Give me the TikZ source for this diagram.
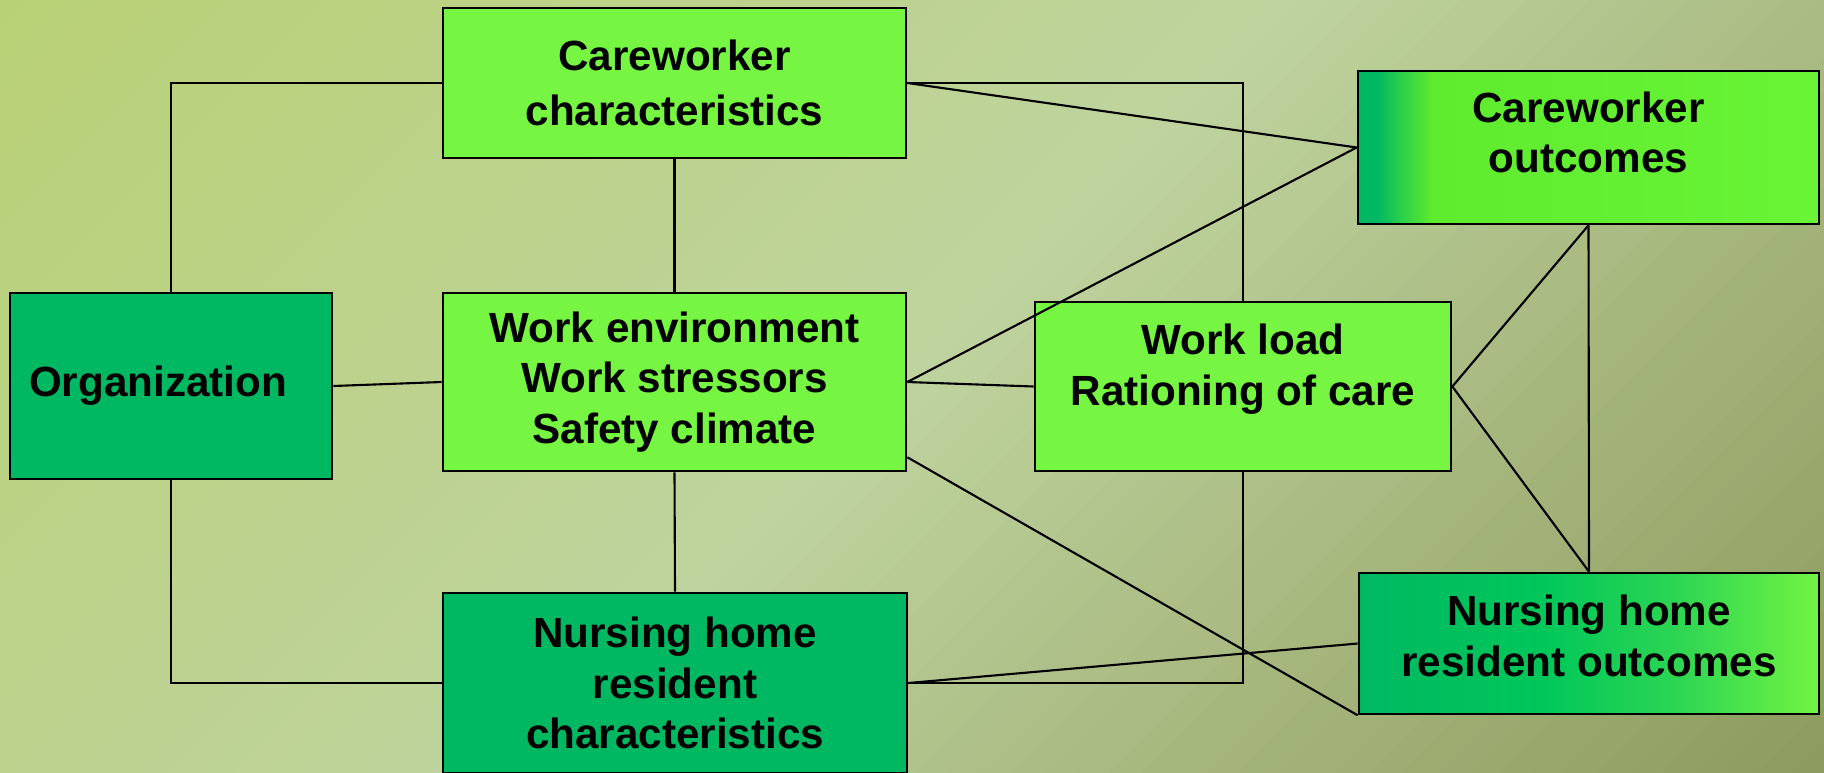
\documentclass[tikz,border=0pt]{standalone}
\usepackage{fontspec}
\setmainfont{Liberation Sans}
\usepackage{xcolor}
\usepackage{tikz}
\usetikzlibrary{calc}
\definecolor{bgleft}{HTML}{B9D175}
\definecolor{bgmid}{HTML}{BFD39E}
\definecolor{bgright}{HTML}{8C9A5D}
\definecolor{darkbox}{HTML}{00B862}
\definecolor{lightbox}{HTML}{76F542}
\definecolor{cogreen}{HTML}{5FEB2E}
\definecolor{colime}{HTML}{69F536}
\definecolor{nhmid}{HTML}{00C75A}
\definecolor{nhlight}{HTML}{2ED652}
\definecolor{nhright}{HTML}{72F443}
\pgfdeclarehorizontalshading{cofade}{100bp}{color(0bp)=(darkbox); color(27bp)=(darkbox); color(33bp)=(cogreen); color(75bp)=(colime); color(100bp)=(colime)}
\pgfdeclarehorizontalshading{nhfade}{100bp}{color(0bp)=(darkbox); color(25bp)=(darkbox); color(45bp)=(nhmid); color(60bp)=(nhlight); color(75bp)=(nhright); color(100bp)=(nhright)}

\begin{document}
\begin{tikzpicture}[x=0.01cm,y=-0.01cm,
  box/.style={draw=black,line width=0.7pt,align=center,inner sep=0pt,
    font=\fontsize{12}{14.4}\selectfont\bfseries},
  link/.style={black,line width=0.6pt}]
\useasboundingbox (0,0) rectangle (1824,772);
\clip (0,0) rectangle (1824,772);
%% diagonal background, in strips
\foreach \i in {0,...,79}{
  \pgfmathsetmacro{\sa}{\i*32.45}
  \pgfmathsetmacro{\sb}{\sa+34}
  \pgfmathsetmacro{\t}{(\i+0.5)/40-1}
  \pgfmathsetmacro{\p}{abs(\t)*100}
  \ifdim\t pt<0pt \colorlet{bgstrip}{bgleft!\p!bgmid}\else \colorlet{bgstrip}{bgright!\p!bgmid}\fi
  \fill[bgstrip] (\sa,0) -- (\sb,0) -- (\sb-800,800) -- (\sa-800,800) -- cycle;
}
%% boxes
\node[box,fill=darkbox,minimum width=3.22cm,minimum height=1.86cm] (org) at (171,386) {\raisebox{-0.07cm}{Organization}\hspace*{0.26cm}};
\node[box,fill=lightbox,minimum width=4.63cm,minimum height=1.50cm] (cc) at (674.5,83) {Careworker\\[0.04cm]characteristics};
\node[box,fill=lightbox,minimum width=4.63cm,minimum height=1.78cm] (we) at (674.5,382) {Work environment\\Work stressors\\Safety climate};
\node[box,fill=darkbox,minimum width=4.64cm,minimum height=1.80cm] (nhrc) at (675,683) {Nursing home\\resident\\characteristics};
\node[box,fill=lightbox,minimum width=4.16cm,minimum height=1.69cm] (wl) at (1243,386.5) {Work load\\Rationing of care\\[-0.07cm]\mbox{}};
\node[box,shade,shading=cofade,minimum width=4.61cm,minimum height=1.53cm] (co) at (1588.5,147.5) {Careworker\\outcomes\\[-0.2cm]\mbox{}};
\node[box,shade,shading=nhfade,minimum width=4.60cm,minimum height=1.41cm] (nhro) at (1589,643.5) {Nursing home\\resident outcomes\\[-0.35cm]\mbox{}};
%% connectors
\draw[link] (org.north) |- (cc.west);
\draw[link] (org.south) |- (nhrc.west);
\draw[link] (org.east) -- (we.west);
\draw[link] (cc.south) -- (we.north);
\draw[link] (we.south) -- (nhrc.north);
\draw[link] (cc.east) -| (wl.north);
\draw[link] (wl.south) |- (nhrc.east);
\draw[link] (cc.east) -- (co.west);
\draw[link] (we.east) -- (co.west);
\draw[link] (we.east) -- (wl.west);
\draw[link] ([yshift=0.15cm]we.south east) -- (nhro.south west);
\draw[link] (nhrc.east) -- (nhro.west);
\draw[link] (wl.east) -- (co.south);
\draw[link] (wl.east) -- (nhro.north);
\draw[link] (co.south) -- (nhro.north);
\end{tikzpicture}
\end{document}
